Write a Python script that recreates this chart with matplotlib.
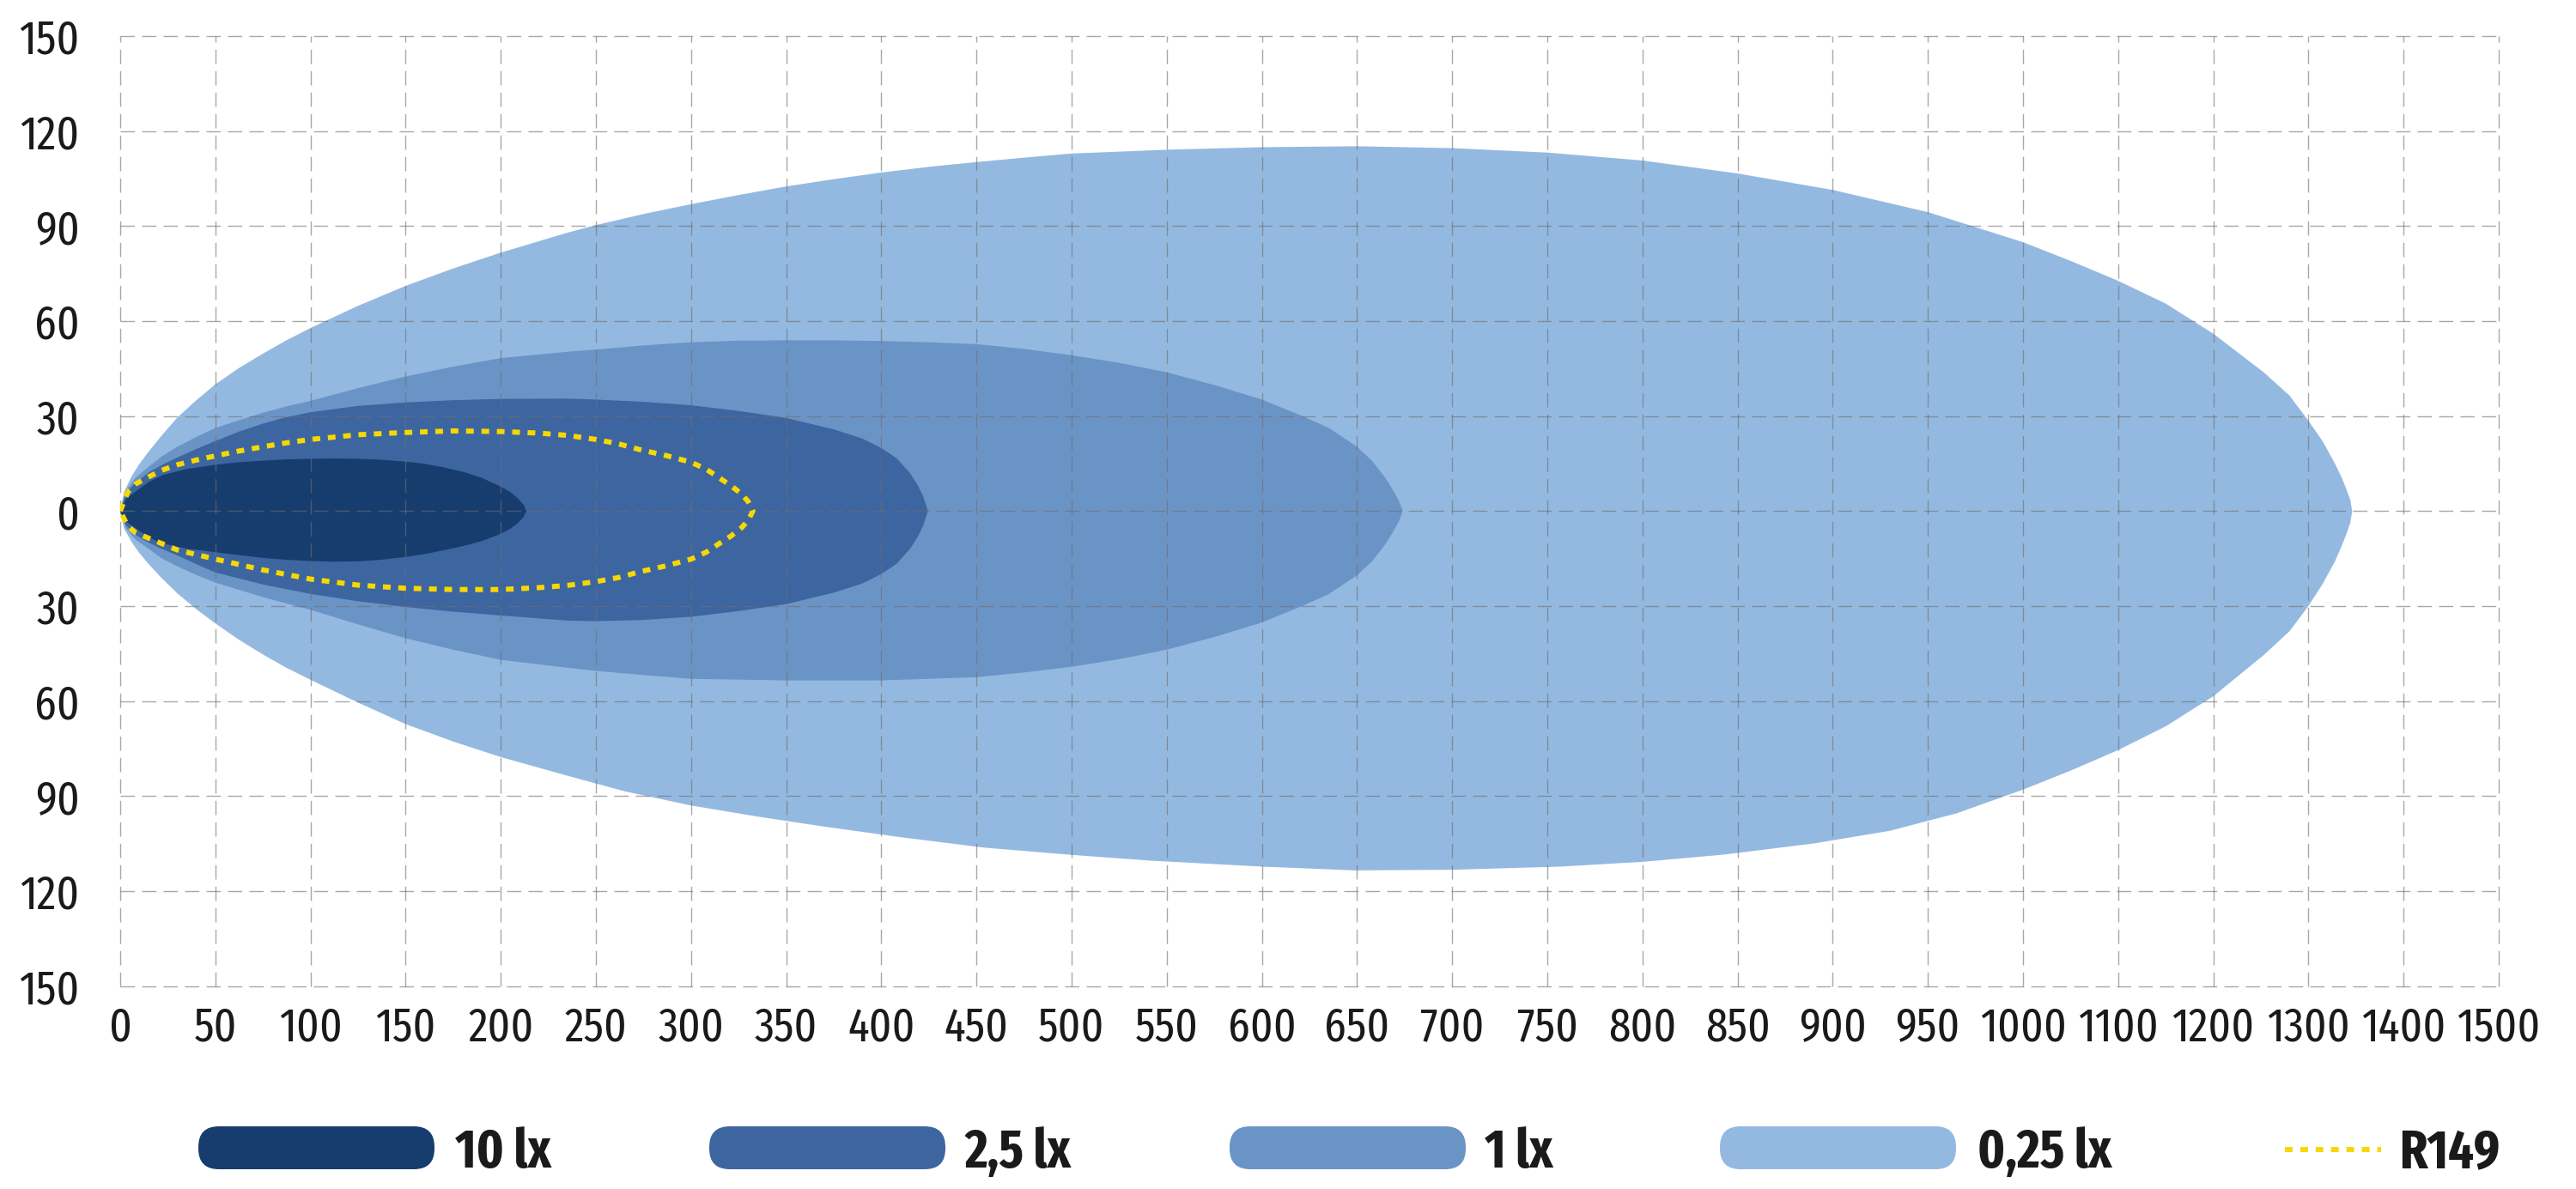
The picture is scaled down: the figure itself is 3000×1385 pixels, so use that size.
import os
import numpy as np
import matplotlib
matplotlib.use("Agg")
import matplotlib.pyplot as plt
from matplotlib import font_manager
from matplotlib.font_manager import FontProperties
from matplotlib.patches import FancyBboxPatch

# ---------------- data ----------------
x_ticks = [0, 50, 100, 150, 200, 250, 300, 350, 400, 450, 500, 550, 600, 650,
           700, 750, 800, 850, 900, 950, 1000, 1100, 1200, 1300, 1400, 1500]
x_tick_labels = [str(v) for v in x_ticks]
y_ticks = [150, 120, 90, 60, 30, 0, -30, -60, -90, -120, -150]
y_tick_labels = ["150", "120", "90", "60", "30", "0", "30", "60", "90", "120", "150"]

series_names = ["10 lx", "2,5 lx", "1 lx", "0,25 lx"]
series_colors = ["#173d6f", "#3d66a1", "#6b94c6", "#94b9e1"]
r149_name = "R149"
r149_color = "#f7d800"

# 0,25 lx contour
lx025_top_x = [0, 2, 6, 10, 15, 22, 30, 40, 50, 62, 75, 87, 100, 125, 150, 175, 200, 235,
               250, 275, 300, 325, 350, 375, 400, 425, 450, 475, 500, 550, 600, 650, 700,
               750, 800, 850, 900, 950, 1000, 1050, 1100, 1150, 1200, 1253, 1280, 1300,
               1315, 1328, 1335, 1340, 1344, 1346]
lx025_top_y = [0, 6, 11, 14.8, 18.8, 24, 29.5, 35, 40, 45, 49.7, 53.8, 57.8, 64.8,
               71.1, 76.6, 81.6, 87.9, 90.3, 93.8, 96.9, 99.8, 102.5, 104.8, 106.9, 108.7,
               110.2, 111.6, 112.9, 114.1, 114.9, 115.2, 114.6, 113.2, 110.7, 106.6, 101.4,
               94.4, 84.9, 79, 72.7, 65.5, 56, 43.8, 36.5, 28.5, 22, 14.9, 10.5, 6.8, 3.5, 0]
lx025_bot_x = [0, 2, 6, 10, 15, 22, 30, 40, 50, 62, 75, 87, 100, 125, 150, 175, 200, 235,
               265, 300, 335, 368, 410, 454, 500, 541, 600, 649, 700, 757, 800, 843, 890,
               930, 965, 1000, 1050, 1100, 1150, 1200, 1253, 1280, 1300, 1315, 1328, 1335,
               1340, 1344, 1346]
lx025_bot_y = [0, -5.5, -9.8, -13.2, -16.8, -21.3, -26, -31, -35.5, -40.5, -45.3, -49.4,
               -53.3, -60.5, -67.3, -72.8, -77.7, -83.6, -88.5, -93, -96.5, -99.5, -103,
               -106.3, -108.6, -110.4, -112.3, -113.5, -113.3, -112.3, -110.8, -108.5, -105,
               -101, -95.5, -88, -82, -75.5, -68, -58.5, -45.5, -38, -30, -23, -15.8, -11,
               -7.2, -3.7, 0]

# 1 lx contour
lx1_top_x = [0, 3, 8, 15, 22, 30, 40, 50, 62, 75, 87, 100, 125, 150, 175, 200, 235, 250,
             275, 300, 325, 350, 375, 400, 425, 450, 475, 500, 525, 550, 575, 600, 620,
             635, 650, 658, 665, 669, 672, 674]
lx1_top_y = [0, 6.5, 10.5, 14, 17.3, 20.3, 23.4, 26.2, 28.6, 31, 33, 34.8, 38.8, 42.5,
             45.6, 48.3, 50.3, 51, 52.3, 53.3, 53.8, 53.9, 53.9, 53.7, 53.3, 52.7, 51.2,
             49.2, 46.8, 43.8, 39.8, 35.2, 30.3, 26.3, 20.3, 15.8, 10.4, 6.5, 3.3, 0]
lx1_bot_x = [0, 3, 8, 15, 22, 30, 40, 50, 75, 100, 125, 150, 175, 200, 235, 250, 275, 300,
             350, 400, 450, 475, 500, 525, 550, 575, 600, 620, 635, 650, 658, 665, 669,
             672, 674]
lx1_bot_y = [0, -5.5, -9, -12, -15, -17.5, -20.2, -22.6, -27.2, -31.2, -35.8, -40.2, -43.8,
             -47, -49.5, -50.5, -51.8, -53, -53.5, -53.5, -52.5, -51, -49.2, -46.8, -43.8,
             -39.8, -35.2, -30.3, -26.3, -20.3, -15.8, -10.4, -6.5, -3.3, 0]

# 2,5 lx contour
lx25_top_x = [0, 3, 8, 15, 22, 30, 40, 50, 62, 75, 87, 100, 125, 150, 175, 200, 235, 250,
              275, 300, 325, 350, 375, 390, 400, 408, 415, 419, 422, 424.5]
lx25_top_y = [0, 5.5, 9, 12.2, 14.6, 16.9, 19.6, 22.1, 25, 27.6, 29.6, 31.2, 33.2, 34.3,
              35, 35.4, 35.5, 35.2, 34.5, 33.4, 31.6, 29.4, 25.8, 22.9, 19.9, 16.7, 12,
              8.3, 4.6, 0]
lx25_bot_x = [0, 3, 8, 15, 22, 30, 40, 50, 75, 100, 125, 150, 175, 200, 235, 250, 275, 300,
              325, 350, 375, 390, 400, 408, 415, 419, 422, 424.5]
lx25_bot_y = [0, -4.5, -7.5, -10, -12, -14, -16.8, -19.4, -23.2, -26.2, -28.5, -30.3, -31.8,
              -33, -34.6, -34.8, -34.4, -33.4, -31.6, -29.4, -25.8, -22.9, -19.9, -16.7,
              -12, -8.3, -4.6, 0]

# 10 lx contour
lx10_top_x = [0, 3, 7.5, 15, 22.5, 35, 50, 62, 75, 87, 100, 112, 125, 137, 150, 160, 170,
              180, 190, 200, 205, 209, 212, 213.5]
lx10_top_y = [0, 3.8, 5.9, 9.2, 11.4, 13.3, 14.6, 15.4, 15.9, 16.3, 16.5, 16.6, 16.5, 16.2,
              15.6, 14.9, 13.8, 12.4, 10.5, 7.7, 6, 4, 2, 0]
lx10_bot_x = [0, 3, 7.5, 15, 22.5, 35, 50, 62, 75, 87, 100, 112, 125, 137, 150, 160, 170,
              180, 190, 200, 205, 209, 212, 213.5]
lx10_bot_y = [0, -3.3, -5.2, -8.3, -10.3, -11.9, -13, -13.9, -14.8, -15.4, -15.8, -16,
              -15.9, -15.4, -14.5, -13.6, -12.4, -11.1, -9.5, -7.2, -5.6, -3.8, -1.9, 0]

# R149 contour
r149_top_x = [0, 4, 8, 15, 22, 30, 40, 50, 62, 75, 87, 100, 125, 150, 175, 200, 220, 235,
              250, 262, 273, 287, 300, 308, 314, 321, 326.5, 330, 332.5]
r149_top_y = [0, 6, 8.5, 10.8, 12.9, 14.6, 16.1, 17.4, 18.9, 20.3, 21.5, 22.6, 24.1, 24.8,
              25.3, 25.1, 24.6, 23.9, 22.6, 21.2, 19.4, 17.5, 15.4, 13.2, 10.8, 8, 5.4, 3, 0]
r149_bot_x = [0, 4, 8, 15, 30, 50, 75, 100, 125, 150, 175, 200, 220, 235, 250, 262, 273,
              287, 300, 308, 314, 321, 326.5, 330, 332.5]
r149_bot_y = [0, -4.8, -6.8, -8.6, -12.3, -15.2, -18.6, -21.5, -23.4, -24.4, -24.8, -24.8,
              -24.2, -23.5, -22.3, -21, -19.2, -17.3, -15.2, -13, -10.6, -7.9, -5.3, -3, 0]

# ---------------- fonts ----------------
STRETCH_RANK = {"ultra-condensed": 0, "extra-condensed": 1, "condensed": 2,
                "semi-condensed": 3}
FAMILY_RANK = ["Liberation Sans Narrow", "Roboto Condensed", "Noto Sans", "Open Sans",
               "Roboto", "DejaVu Sans", "Lato", "Inter", "Liberation Sans"]


def _wnum(w):
    if isinstance(w, (int, float)):
        return int(w)
    return font_manager.weight_dict.get(str(w), 400)


def find_condensed(target_weight):
    best, best_key = None, None
    for f in font_manager.fontManager.ttflist:
        st = str(f.stretch)
        base = os.path.basename(f.fname)
        is_cond = (st in STRETCH_RANK or "Narrow" in f.name or "Condensed" in f.name
                   or "Condensed" in base or "Narrow" in base)
        if not is_cond or f.style != "normal":
            continue
        if "Mono" in f.name or "Serif" in f.name or "CJK" in f.name:
            continue
        fam_r = next((i for i, n in enumerate(FAMILY_RANK) if f.name.startswith(n)), 50)
        st_r = STRETCH_RANK.get(st, 2)
        if "ExtraCondensed" in base:
            st_r = 1
        elif "SemiCondensed" in base:
            st_r = 3
        elif "Condensed" in base or "Narrow" in base:
            st_r = 2
        key = (st_r, abs(_wnum(f.weight) - target_weight), fam_r)
        if best_key is None or key < best_key:
            best, best_key = f, key
    return best


reg = find_condensed(400)
bold = find_condensed(700)
if reg is not None:
    FP_REG = FontProperties(fname=reg.fname)
else:
    FP_REG = FontProperties(family="Roboto")
if bold is not None:
    FP_BOLD = FontProperties(fname=bold.fname)
else:
    FP_BOLD = FontProperties(family="Roboto", weight="bold")
TEXT_COLOR = "#1a1a1a"

# ---------------- figure ----------------
W, H = 3000, 1385
fig = plt.figure(figsize=(W / 100, H / 100), dpi=100)
fig.patch.set_facecolor("white")
renderer = fig.canvas.get_renderer()


def fit_size(text, prop, max_size, max_width_px):
    p = prop.copy()
    p.set_size(max_size)
    w, h, d = renderer.get_text_width_height_descent(text, p, ismath=False)
    return min(max_size, max_size * max_width_px / w)


TICK_FS = fit_size("1000", FP_REG, 42, 101)
LEG_FS = fit_size("0,25 lx", FP_BOLD, 47, 156)
FP_TICK = FP_REG.copy()
FP_TICK.set_size(TICK_FS)
FP_LEG = FP_BOLD.copy()
FP_LEG.set_size(LEG_FS)

ax = fig.add_axes([140 / W, 1 - 1148.5 / H, 2770 / W, 1106.5 / H])


def fwd(x):
    x = np.asarray(x, dtype=float)
    return np.where(x <= 1000, x / 50.0, 20 + (x - 1000) / 100.0)


def inv(p):
    p = np.asarray(p, dtype=float)
    return np.where(p <= 20, p * 50.0, 1000 + (p - 20) * 100.0)


ax.set_xscale("function", functions=(fwd, inv))


def closed(tx, ty, bx, by):
    return list(tx) + list(bx[::-1]), list(ty) + list(by[::-1])


shapes = [
    (lx025_top_x, lx025_top_y, lx025_bot_x, lx025_bot_y, series_colors[3]),
    (lx1_top_x, lx1_top_y, lx1_bot_x, lx1_bot_y, series_colors[2]),
    (lx25_top_x, lx25_top_y, lx25_bot_x, lx25_bot_y, series_colors[1]),
    (lx10_top_x, lx10_top_y, lx10_bot_x, lx10_bot_y, series_colors[0]),
]
for tx, ty, bx, by, c in shapes:
    px, py = closed(tx, ty, bx, by)
    ax.fill(px, py, color=c, lw=0, zorder=1)

rx, ry = closed(r149_top_x, r149_top_y, r149_bot_x, r149_bot_y)
DOT_STYLE = dict(color=r149_color, lw=4.3, linestyle=(0, (1.5, 1.5)),
                 dash_capstyle="butt", solid_capstyle="butt", solid_joinstyle="round")
ax.plot(rx, ry, zorder=4, **DOT_STYLE)

ax.set_xlim(0, 1500)
ax.set_ylim(-150, 150)
ax.set_xticks(x_ticks)
ax.set_xticklabels(x_tick_labels, fontproperties=FP_TICK, color=TEXT_COLOR)
ax.set_yticks(y_ticks)
ax.set_yticklabels(y_tick_labels, fontproperties=FP_TICK, color=TEXT_COLOR)
ax.minorticks_off()

for s in ax.spines.values():
    s.set_visible(False)
ax.set_axisbelow(False)
ax.grid(True, color="#6e6e6e", alpha=0.6, lw=1.0, linestyle=(0, (12, 6)))
for gl in ax.get_xgridlines() + ax.get_ygridlines():
    gl.set_clip_on(False)
ax.tick_params(axis="both", length=0)
ax.tick_params(axis="y", pad=34)
ax.tick_params(axis="x", pad=16)
ax.set_facecolor("white")

# ---------------- legend ----------------
lax = fig.add_axes([0, 0, 1, 1])
lax.set_xlim(0, W)
lax.set_ylim(H, 0)
lax.axis("off")
lax.patch.set_alpha(0)

pill_x0 = [231, 826, 1432, 2003]
text_x = [530, 1124, 1729, 2303]
pill_w, pill_h, yc = 275, 50, 1337
for name, c, x0, tx in zip(series_names, series_colors, pill_x0, text_x):
    lax.add_patch(FancyBboxPatch((x0, yc - pill_h / 2), pill_w, pill_h,
                                 boxstyle="round,pad=0,rounding_size=24",
                                 fc=c, ec="none"))
    lax.text(tx, 1360, name, fontproperties=FP_LEG, color=TEXT_COLOR,
             ha="left", va="baseline")

lax.plot([2661, 2773], [1339, 1339], **DOT_STYLE)
lax.text(2794, 1360, r149_name, fontproperties=FP_LEG, color=TEXT_COLOR,
         ha="left", va="baseline")

fig.savefig("out.png", dpi=100, facecolor="white")
